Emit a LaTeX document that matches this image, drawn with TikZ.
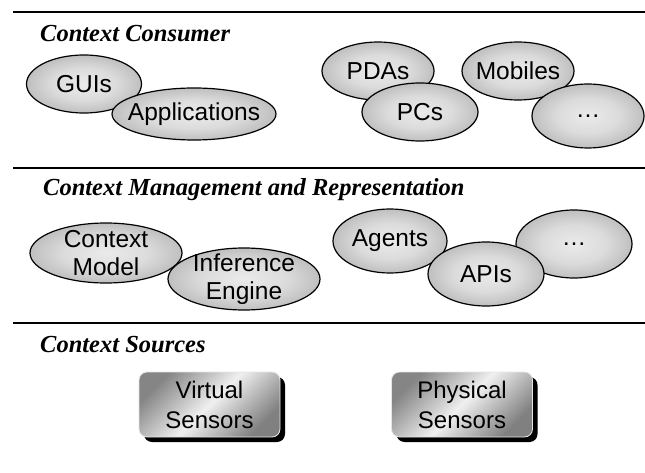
\documentclass[tikz,border=0pt]{standalone}
\usepackage{fontspec}
\setmainfont{Liberation Sans}
\newfontfamily\titlefont{Liberation Serif}
\usetikzlibrary{shapes.geometric,shadows}
\pgfdeclareradialshading{bubshade}{\pgfpoint{0bp}{0bp}}{%
  color(0bp)=(black!8); color(14bp)=(black!14); color(30bp)=(black!30);
  color(42bp)=(black!48); color(50bp)=(black!58)}
\begin{document}
\begin{tikzpicture}[x=1pt,y=-1pt,
  bubble/.style={ellipse, draw=black, line width=1.2pt, inner sep=0pt,
    shading=bubshade},
  btext/.style={font=\fontsize{24.5}{28}\selectfont, align=center, inner sep=0pt},
  sensor/.style={rounded corners=8pt, draw=black!10, line width=0.8pt,
    top color=black!48, bottom color=black!50, middle color=black!6, shading angle=45,
    minimum width=141pt, minimum height=65pt, inner sep=0pt,
    font=\fontsize{24}{30}\selectfont, align=center,
    drop shadow={shadow xshift=5pt, shadow yshift=-5pt, fill=black, opacity=1}},
  layer/.style={font=\titlefont\bfseries\itshape\fontsize{24.5}{28}\selectfont,
    anchor=base west, inner sep=0pt},
  rule/.style={line width=2pt}]
\useasboundingbox (0,0) rectangle (645,473);

% rules
\coordinate (r1a) at (13,12);  \coordinate (r1b) at (645,12);
\coordinate (r2a) at (13,168); \coordinate (r2b) at (645,168);
\coordinate (r3a) at (13,323); \coordinate (r3b) at (645,323);
\draw[rule] (r1a) -- (r1b);
\draw[rule] (r2a) -- (r2b);
\draw[rule] (r3a) -- (r3b);

% Context Consumer
\node[layer] (t1) at (40,42) {Context Consumer};
\node[bubble, minimum width=115pt, minimum height=58pt] (gui) at (84,84) {};
\node[btext] (guit) at (gui) {GUIs};
\node[bubble, minimum width=164pt, minimum height=52pt] (app) at (194,114) {};
\node[btext] (appt) at (app) {Applications};
\node[bubble, minimum width=112pt, minimum height=58pt] (pda) at (378,71) {};
\node[btext] (pdat) at (pda) {PDAs};
\node[bubble, minimum width=116pt, minimum height=58pt] (pc) at (420,112) {};
\node[btext] (pct) at (pc) {PCs};
\node[bubble, minimum width=112pt, minimum height=58pt] (mob) at (518,71) {};
\node[btext] (mobt) at (mob) {Mobiles};
\node[bubble, minimum width=112pt, minimum height=64pt] (d1) at (588,116) {};
\node[btext] (d1t) at (d1) {…};

% Context Management and Representation
\node[layer] (t2) at (43,196) {Context Management and Representation};
\node[bubble, minimum width=152pt, minimum height=60pt] (cm) at (106,253) {};
\node[btext] (cmt) at (cm) {Context\\Model};
\node[bubble, minimum width=152pt, minimum height=62pt] (ie) at (244,279) {};
\node[btext] (iet) at (ie) {Inference\\Engine};
\node[bubble, minimum width=114pt, minimum height=64pt] (ag) at (390,241) {};
\node[btext] (agt) at (ag) {Agents};
\node[bubble, minimum width=116pt, minimum height=68pt] (d2) at (574,244) {};
\node[btext] (d2t) at (d2) {…};
\node[bubble, minimum width=116pt, minimum height=64pt] (api) at (486,274) {};
\node[btext] (apit) at (api) {APIs};

% Context Sources
\node[layer] (t3) at (40,352) {Context Sources};
\node[sensor] (vs) at (209.5,404.5) {Virtual\\Sensors};
\node[sensor] (ps) at (462,404.5) {Physical\\Sensors};
\end{tikzpicture}
\end{document}
